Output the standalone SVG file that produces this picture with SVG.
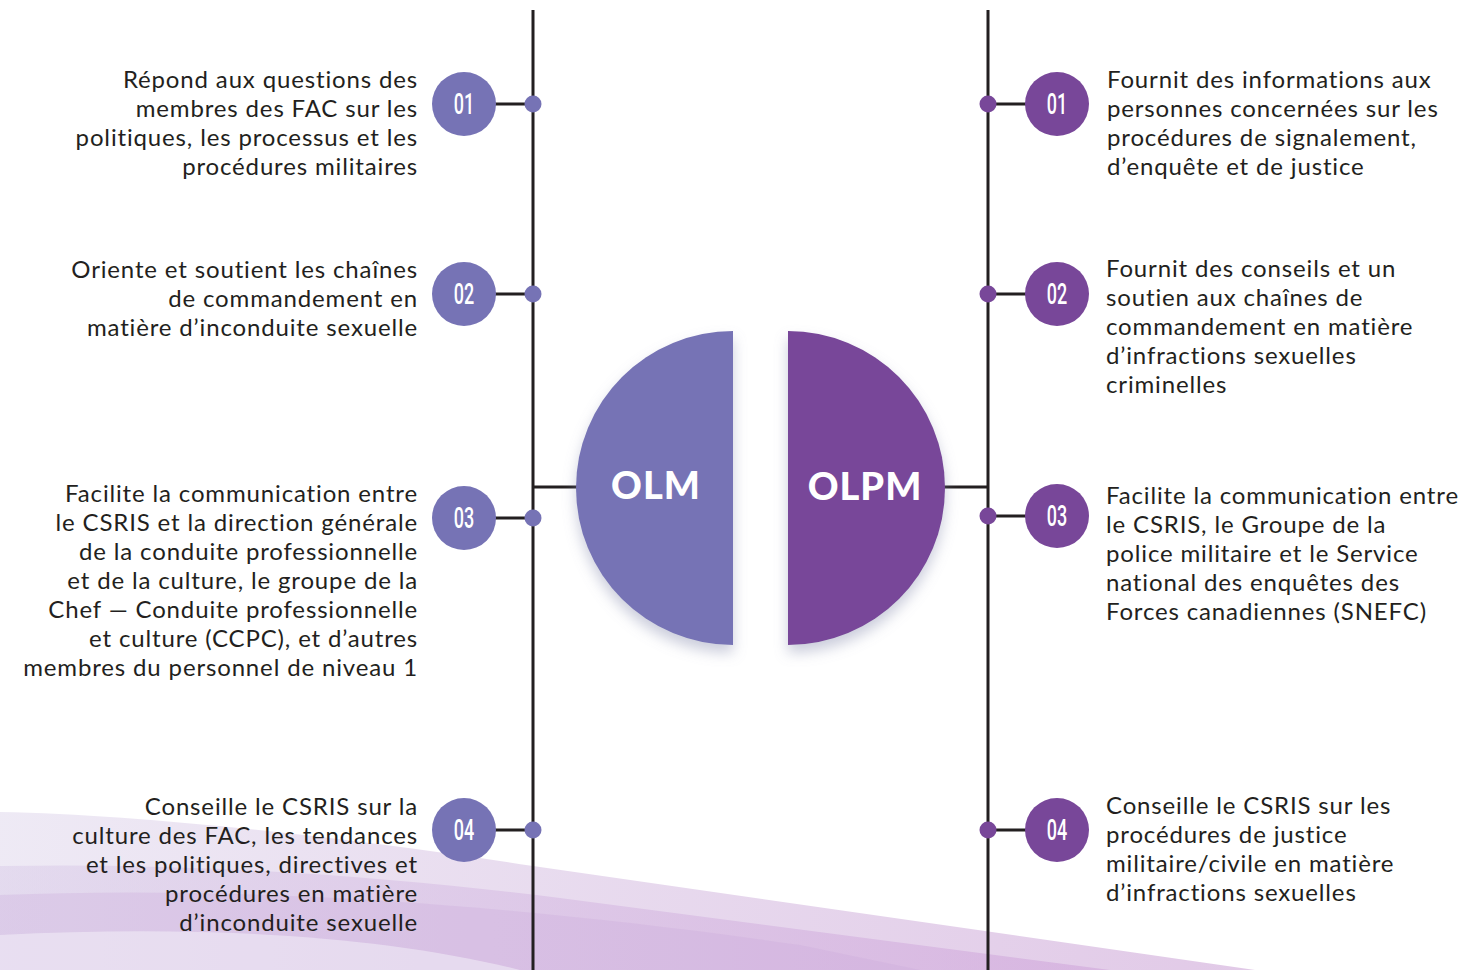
<svg xmlns="http://www.w3.org/2000/svg" width="1460" height="970" viewBox="0 0 1460 970">
<defs>
<style>
.t{font-family:Lato,"Noto Sans",sans-serif;font-size:24px;letter-spacing:0.85px;fill:#231f20;}
.l{text-anchor:end;}
.n{font-family:Roboto,"Liberation Sans",sans-serif;font-weight:500;font-size:29px;fill:#fff;text-anchor:middle;}
.big{font-family:Lato,"Noto Sans",sans-serif;font-weight:900;font-size:38px;fill:#fff;text-anchor:middle;letter-spacing:1px;}
.c1{fill:#7673b5;}
.c2{fill:#784799;}
.ln{stroke:#231f20;stroke-width:3;fill:none;}
</style>
<filter id="sh" x="-30%" y="-30%" width="160%" height="170%">
<feGaussianBlur in="SourceAlpha" stdDeviation="7"/>
<feOffset dx="0" dy="8" result="b"/>
<feFlood flood-color="#8a8fb0" flood-opacity="0.45"/>
<feComposite in2="b" operator="in"/>
<feMerge><feMergeNode/><feMergeNode in="SourceGraphic"/></feMerge>
</filter>
<linearGradient id="g1" x1="0" y1="0" x2="1" y2="0">
<stop offset="0" stop-color="#ebe6f3"/>
<stop offset="1" stop-color="#dcc0e3"/>
</linearGradient>
<linearGradient id="g2" x1="0" y1="0" x2="1" y2="0">
<stop offset="0" stop-color="#d9cbe8"/>
<stop offset="1" stop-color="#cc9ed8"/>
</linearGradient>
</defs>
<rect width="1460" height="970" fill="#fff"/>
<g id="background">
<path d="M0,812 C150,815 350,838 533,866 L1255,970 L0,970 Z" fill="url(#g1)" opacity="0.85"/>
<path d="M0,866 C200,862 400,878 560,898 L1110,970 L0,970 Z" fill="url(#g2)" opacity="0.5"/>
<path d="M0,895 C250,885 520,905 800,945 L920,970 L0,970 Z" fill="#c9a9da" opacity="0.3"/>
<path d="M0,935 C200,925 380,935 520,970 L0,970 Z" fill="#f3eef8" opacity="0.55"/>
</g>
<g id="connectors">
<line class="ln" x1="533" y1="10" x2="533" y2="970"/>
<line class="ln" x1="988" y1="10" x2="988" y2="970"/>
<line class="ln" x1="533" y1="487" x2="580" y2="487"/>
<line class="ln" x1="942" y1="487" x2="988" y2="487" stroke="#666"/>
<line class="ln" x1="494" y1="104" x2="533" y2="104"/>
<line class="ln" x1="494" y1="294" x2="533" y2="294"/>
<line class="ln" x1="494" y1="518" x2="533" y2="518"/>
<line class="ln" x1="494" y1="830" x2="533" y2="830"/>
<line class="ln" x1="988" y1="104" x2="1027" y2="104"/>
<line class="ln" x1="988" y1="294" x2="1027" y2="294"/>
<line class="ln" x1="988" y1="516" x2="1027" y2="516"/>
<line class="ln" x1="988" y1="830" x2="1027" y2="830"/>
<circle class="c1" cx="533" cy="104" r="8.5"/>
<circle class="c1" cx="533" cy="294" r="8.5"/>
<circle class="c1" cx="533" cy="518" r="8.5"/>
<circle class="c1" cx="533" cy="830" r="8.5"/>
<circle class="c2" cx="988" cy="104" r="8.5"/>
<circle class="c2" cx="988" cy="294" r="8.5"/>
<circle class="c2" cx="988" cy="516" r="8.5"/>
<circle class="c2" cx="988" cy="830" r="8.5"/>
</g>
<g id="olm">
<path class="c1" filter="url(#sh)" d="M733,331 A157,157 0 0 0 733,645 Z"/>
<text class="big" x="656" y="499">OLM</text>
</g>
<g id="olpm">
<path class="c2" filter="url(#sh)" d="M788,331 A157,157 0 0 1 788,645 Z"/>
<text class="big" x="865" y="500">OLPM</text>
</g>
<g id="l1">
<circle class="c1" cx="464" cy="104" r="32"/>
<text class="n" transform="translate(464,114) scale(0.62,1)">01</text>
<text class="t l" x="418"><tspan x="418" y="88">Répond aux questions des</tspan><tspan x="418" y="117">membres des FAC sur les</tspan><tspan x="418" y="146">politiques, les processus et les</tspan><tspan x="418" y="175">procédures militaires</tspan></text>
</g>
<g id="l2">
<circle class="c1" cx="464" cy="294" r="32"/>
<text class="n" transform="translate(464,304) scale(0.62,1)">02</text>
<text class="t l" x="418"><tspan x="418" y="278">Oriente et soutient les chaînes</tspan><tspan x="418" y="307">de commandement en</tspan><tspan x="418" y="336">matière d’inconduite sexuelle</tspan></text>
</g>
<g id="l3">
<circle class="c1" cx="464" cy="518" r="32"/>
<text class="n" transform="translate(464,528) scale(0.62,1)">03</text>
<text class="t l" x="418"><tspan x="418" y="502">Facilite la communication entre</tspan><tspan x="418" y="531">le CSRIS et la direction générale</tspan><tspan x="418" y="560">de la conduite professionnelle</tspan><tspan x="418" y="589">et de la culture, le groupe de la</tspan><tspan x="418" y="618">Chef — Conduite professionnelle</tspan><tspan x="418" y="647">et culture (CCPC), et d’autres</tspan><tspan x="418" y="676">membres du personnel de niveau 1</tspan></text>
</g>
<g id="l4">
<circle class="c1" cx="464" cy="830" r="32"/>
<text class="n" transform="translate(464,840) scale(0.62,1)">04</text>
<text class="t l" x="418"><tspan x="418" y="815">Conseille le CSRIS sur la</tspan><tspan x="418" y="844">culture des FAC, les tendances</tspan><tspan x="418" y="873">et les politiques, directives et</tspan><tspan x="418" y="902">procédures en matière</tspan><tspan x="418" y="931">d’inconduite sexuelle</tspan></text>
</g>
<g id="r1">
<circle class="c2" cx="1057" cy="104" r="32"/>
<text class="n" transform="translate(1057,114) scale(0.62,1)">01</text>
<text class="t" x="1107"><tspan x="1107" y="88">Fournit des informations aux</tspan><tspan x="1107" y="117">personnes concernées sur les</tspan><tspan x="1107" y="146">procédures de signalement,</tspan><tspan x="1107" y="175">d’enquête et de justice</tspan></text>
</g>
<g id="r2">
<circle class="c2" cx="1057" cy="294" r="32"/>
<text class="n" transform="translate(1057,304) scale(0.62,1)">02</text>
<text class="t" x="1106"><tspan x="1106" y="277">Fournit des conseils et un</tspan><tspan x="1106" y="306">soutien aux chaînes de</tspan><tspan x="1106" y="335">commandement en matière</tspan><tspan x="1106" y="364">d’infractions sexuelles</tspan><tspan x="1106" y="393">criminelles</tspan></text>
</g>
<g id="r3">
<circle class="c2" cx="1057" cy="516" r="32"/>
<text class="n" transform="translate(1057,526) scale(0.62,1)">03</text>
<text class="t" x="1106"><tspan x="1106" y="504">Facilite la communication entre</tspan><tspan x="1106" y="533">le CSRIS, le Groupe de la</tspan><tspan x="1106" y="562">police militaire et le Service</tspan><tspan x="1106" y="591">national des enquêtes des</tspan><tspan x="1106" y="620">Forces canadiennes (SNEFC)</tspan></text>
</g>
<g id="r4">
<circle class="c2" cx="1057" cy="830" r="32"/>
<text class="n" transform="translate(1057,840) scale(0.62,1)">04</text>
<text class="t" x="1106"><tspan x="1106" y="814">Conseille le CSRIS sur les</tspan><tspan x="1106" y="843">procédures de justice</tspan><tspan x="1106" y="872">militaire/civile en matière</tspan><tspan x="1106" y="901">d’infractions sexuelles</tspan></text>
</g>
</svg>
